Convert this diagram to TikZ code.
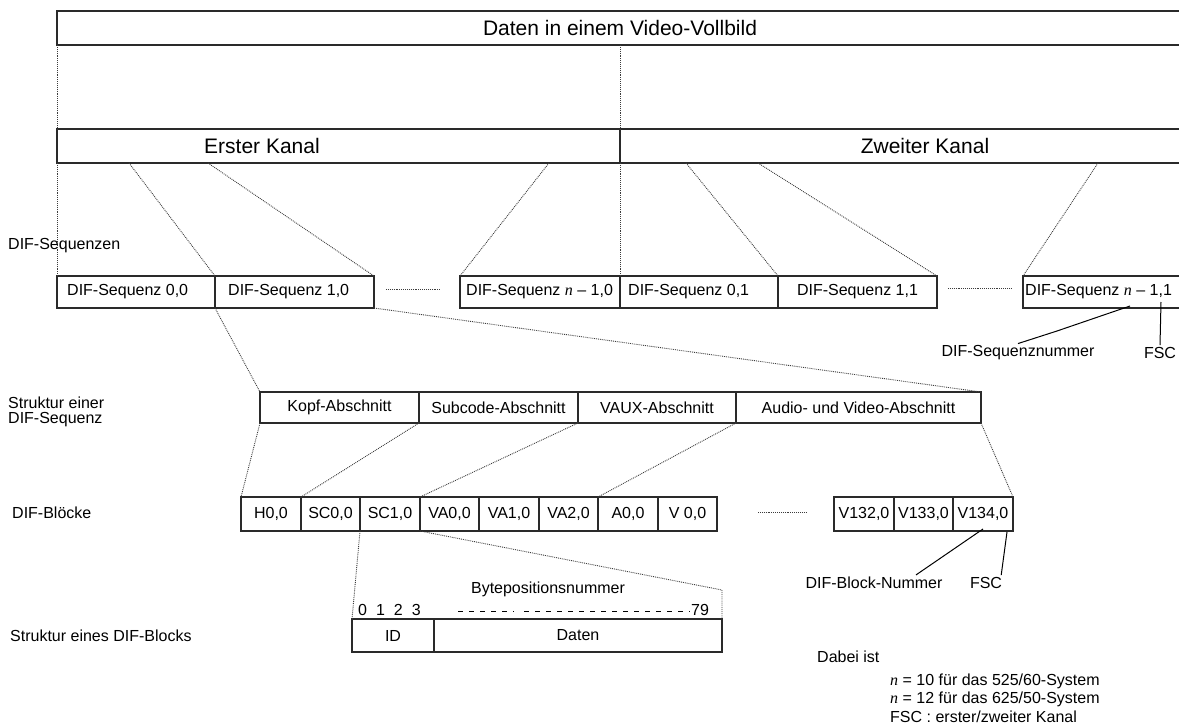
\documentclass[tikz,border=0pt]{standalone}
\usepackage{fontspec}
\setmainfont{Liberation Sans}
\newfontfamily\tms{Liberation Serif}
\newcommand\nvar{{\tms\itshape n}}
\newcommand\fsm{\fontsize{16}{19}\selectfont}
\newcommand\fbg{\fontsize{21}{25}\selectfont}
\definecolor{edge}{HTML}{2A2A2A}
\definecolor{dotc}{HTML}{3C3C3C}
\begin{document}
\begin{tikzpicture}[x=1pt,y=-1pt,
  box/.style={draw=edge, line width=1.1pt, inner sep=0pt, outer sep=0pt,
              anchor=north west, font=\fsm},
  lbl/.style={inner sep=0pt, font=\fsm, text=black},
  link/.style={draw=dotc, line width=0.9pt, densely dotted},
  pointer/.style={draw=black, line width=1pt},
  ticks/.style={draw=black, line width=1pt, dash pattern=on 5pt off 6pt},
]
\useasboundingbox (0,0) rectangle (1179,726);
\begin{scope}
\clip (0,0) rectangle (1179,726);

% frame and the two channels
\node[box, minimum width=1200pt, minimum height=34pt] (frame) at (57,11) {};
\node[lbl, font=\fbg] (ftitle) at (620,28) {Daten in einem Video-Vollbild};
\node[box, minimum width=563pt, minimum height=34pt] (ch1) at (57,129) {};
\node[box, minimum width=600pt, minimum height=34pt] (ch2) at (620,129) {};
\node[lbl, font=\fbg] (ch1t) at (262,146) {Erster Kanal};
\node[lbl, font=\fbg] (ch2t) at (925,146) {Zweiter Kanal};
\coordinate (fmid) at (620,45);

% DIF sequences
\node[box, minimum width=158pt, minimum height=32pt] (s00) at (57,276) {};
\node[box, minimum width=159pt, minimum height=32pt] (s10) at (215,276) {};
\node[box, minimum width=160pt, minimum height=32pt] (sn0) at (460,276) {};
\node[box, minimum width=158pt, minimum height=32pt] (s01) at (620,276) {};
\node[box, minimum width=159pt, minimum height=32pt] (s11) at (778,276) {};
\node[box, minimum width=200pt, minimum height=32pt] (sn1) at (1023,276) {};
\node[lbl, anchor=west] (t00) at ([xshift=10pt]s00.west) {DIF-Sequenz 0,0};
\node[lbl, anchor=west] (t10) at ([xshift=13pt]s10.west) {DIF-Sequenz 1,0};
\node[lbl, anchor=west] (tn0) at ([xshift=6pt]sn0.west) {DIF-Sequenz \nvar{} – 1,0};
\node[lbl, anchor=west] (t01) at ([xshift=8pt]s01.west) {DIF-Sequenz 0,1};
\node[lbl] (t11) at (s11.center) {DIF-Sequenz 1,1};
\node[lbl, anchor=west] (tn1) at ([xshift=2pt]sn1.west) {DIF-Sequenz \nvar{} – 1,1};
\coordinate (d1a) at (386,289); \coordinate (d1b) at (440,289);
\coordinate (d2a) at (948,288); \coordinate (d2b) at (1012,288);
\end{scope}

% sections of one sequence
\node[box, minimum width=159pt, minimum height=31pt] (kopf) at (260,392) {Kopf-Abschnitt};
\node[box, minimum width=159pt, minimum height=31pt] (sub) at (419,392) {Subcode-Abschnitt};
\node[box, minimum width=158pt, minimum height=31pt] (vaux) at (578,392) {VAUX-Abschnitt};
\node[box, minimum width=245pt, minimum height=31pt] (audio) at (736,392) {Audio- und Video-Abschnitt};

% DIF blocks
\node[box, minimum width=60pt, minimum height=34pt] (h00) at (241,497) {H0,0};
\node[box, minimum width=59pt, minimum height=34pt] (sc00) at (301,497) {SC0,0};
\node[box, minimum width=60pt, minimum height=34pt] (sc10) at (360,497) {SC1,0};
\node[box, minimum width=59pt, minimum height=34pt] (va00) at (420,497) {VA0,0};
\node[box, minimum width=60pt, minimum height=34pt] (va10) at (479,497) {VA1,0};
\node[box, minimum width=59pt, minimum height=34pt] (va20) at (539,497) {VA2,0};
\node[box, minimum width=60pt, minimum height=34pt] (a00) at (598,497) {A0,0};
\node[box, minimum width=59pt, minimum height=34pt] (v00) at (658,497) {V 0,0};
\node[box, minimum width=60pt, minimum height=34pt] (v132) at (834,497) {V132,0};
\node[box, minimum width=59pt, minimum height=34pt] (v133) at (894,497) {V133,0};
\node[box, minimum width=60pt, minimum height=34pt] (v134) at (953,497) {V134,0};
\coordinate (d3a) at (758,512); \coordinate (d3b) at (806,512);

% one DIF block
\node[box, minimum width=82pt, minimum height=33pt] (id) at (352,619) {ID};
\node[box, minimum width=288pt, minimum height=33pt] (daten) at (434,619) {Daten};
\node[lbl] (bpn) at (548,589) {Bytepositionsnummer};
\node[lbl, anchor=west] (b0123) at (358,610) {0\hspace{9pt}1\hspace{9pt}2\hspace{9pt}3};
\node[lbl, anchor=west] (b79) at (691,610) {79};
\coordinate (k1a) at (458,611); \coordinate (k1b) at (514,611);
\coordinate (k2a) at (524,611); \coordinate (k2b) at (690,611);
\draw[ticks] (k1a) -- (k1b);
\draw[ticks] (k2a) -- (k2b);
\coordinate (bend) at (722,590);

% row captions
\node[lbl, anchor=west] (capseq) at (8,246) {DIF-Sequenzen};
\node[lbl, anchor=west] (capst1) at (8,403) {Struktur einer};
\node[lbl, anchor=west] (capst2) at (8,420) {DIF-Sequenz};
\node[lbl, anchor=west] (capblk) at (12,513) {DIF-Blöcke};
\node[lbl, anchor=west] (capdb) at (10,636) {Struktur eines DIF-Blocks};

% callouts
\node[lbl] (seqnum) at (1018,353) {DIF-Sequenznummer};
\node[lbl] (fsc1) at (1160,353) {FSC};
\node[lbl] (blknum) at (874,583) {DIF-Block-Nummer};
\node[lbl] (fsc2) at (986,583) {FSC};
\coordinate (na) at (1130,306); \coordinate (nb) at (1057,331);
\coordinate (fa) at (1161,302);
\coordinate (ba) at (983,529); \coordinate (fb) at (1007,532);
\draw[pointer] (na) -- (nb) -- ([yshift=2pt]seqnum.north);
\draw[pointer] (fa) -- ([yshift=2pt]fsc1.north);
\draw[pointer] (ba) -- ([xshift=42pt,yshift=2pt]blknum.north);
\draw[pointer] (fb) -- ([xshift=-1pt,yshift=2pt]fsc2.north east);

% notes
\node[lbl, anchor=west] (note0) at (817,657) {Dabei ist};
\node[lbl, anchor=west] (note1) at (890,681) {\nvar{} = 10 für das 525/60-System};
\node[lbl, anchor=west] (note2) at (890,699) {\nvar{} = 12 für das 625/50-System};
\node[lbl, anchor=west] (note3) at (890,717) {FSC : erster/zweiter Kanal};

% dotted expansion lines
\draw[link] (frame.south west) -- (ch1.north west);
\draw[link] (fmid) -- (ch1.north east);
\draw[link] (ch1.south west) -- (s00.north west);
\draw[link] (ch1.south east) -- (s01.north west);
\draw[link] (129,163) -- (s10.north west);
\draw[link] (208,163) -- (s10.north east);
\draw[link] (549,163) -- (sn0.north west);
\draw[link] (686,163) -- (s11.north west);
\draw[link] (758,163) -- (s11.north east);
\draw[link] (1098,163) -- (sn1.north west);
\draw[link] (d1a) -- (d1b);
\draw[link] (d2a) -- (d2b);
\draw[link] (s10.south west) -- (kopf.north west);
\draw[link] (s10.south east) -- (audio.north east);
\draw[link] (kopf.south west) -- (h00.north west);
\draw[link] (sub.south west) -- (sc00.north west);
\draw[link] (vaux.south west) -- (va00.north west);
\draw[link] (audio.south west) -- (a00.north west);
\draw[link] (audio.south east) -- (v134.north east);
\draw[link] (d3a) -- (d3b);
\draw[link] (sc10.south west) -- (id.north west);
\draw[link] (va00.south west) -- (bend) -- (daten.north east);
\end{tikzpicture}
\end{document}
